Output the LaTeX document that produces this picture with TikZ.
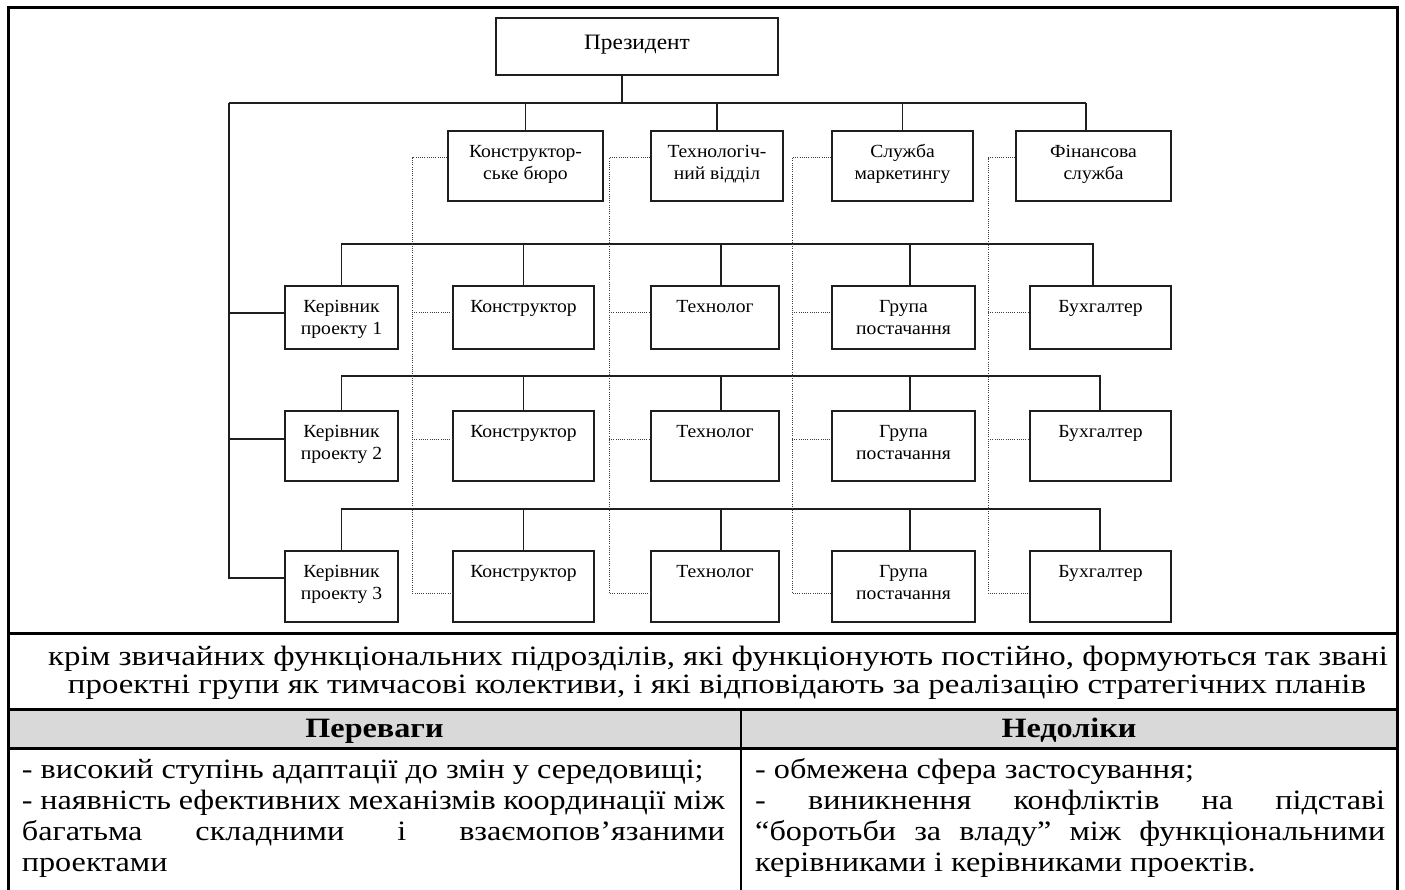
\documentclass[tikz,border=0pt]{standalone}
\usepackage{fontspec}
\setmainfont{Liberation Serif}
\newfontfamily\boxfont[FakeStretch=1.06]{Liberation Serif}
\newfontfamily\tabfont[FakeStretch=1.15]{Liberation Serif}
\newfontfamily\capfont[FakeStretch=1.175]{Liberation Serif}
\definecolor{hdr}{RGB}{217,217,217}
\definecolor{ink}{RGB}{30,30,30}
\begin{document}
\begin{tikzpicture}[x=1pt,y=-1pt,
  box/.style={draw=ink, line width=1.3pt, rectangle, inner sep=0pt},
  btxt/.style={anchor=north, inner sep=0pt, align=center, font=\boxfont\fontsize{18.5}{22}\selectfont},
  conn/.style={draw=ink, line width=1.3pt},
  dotl/.style={draw=black!75, line width=1pt, dash pattern=on 1pt off 1.2pt},
  frameline/.style={draw=black, line width=3pt},
  tabtxt/.style={inner sep=0pt, font=\capfont\fontsize{28}{28}\selectfont},
  cell/.style={anchor=north west, inner sep=0pt, align=left, font=\tabfont\fontsize{28}{31}\selectfont}
]
\useasboundingbox (0,0) rectangle (1405,890);

% ---------- table / frame ----------
\fill[hdr] (8,709) rectangle (1397,748);
\draw[frameline] (8,890) -- (8,8) -- (1397,8) -- (1397,890);
\draw[frameline] (8,633) -- (1397,633);
\draw[frameline] (8,709) -- (1397,709);
\draw[frameline] (8,748) -- (1397,748);
\draw[draw=black, line width=2.5pt] (741,709) -- (741,890);

\node[tabtxt, anchor=base] (cap1) at (718,665) {крім звичайних функціональних підрозділів, які функціонують постійно, формуються так звані};
\node[tabtxt, anchor=base] (cap2) at (717,693) {проектні групи як тимчасові колективи, і які відповідають за реалізацію стратегічних планів};
\node[tabtxt, anchor=base, font=\tabfont\bfseries\fontsize{28}{28}\selectfont] (hpro) at (374.5,737) {Переваги};
\node[tabtxt, anchor=base, font=\tabfont\bfseries\fontsize{28}{28}\selectfont] (hcon) at (1069,737) {Недоліки};

\node[cell] (pros) at (21.7,756) {\rule{0pt}{22pt}- високий ступінь адаптації до змін у середовищі;\\
\makebox[703pt][s]{- наявність ефективних механізмів координації між}\\
\makebox[703pt][s]{багатьма складними і взаємопов’язаними}\\
проектами};
\node[cell] (cons) at (755,756) {\rule{0pt}{22pt}- обмежена сфера застосування;\\
\makebox[630pt][s]{- виникнення конфліктів на підставі}\\
\makebox[630pt][s]{“боротьби за владу” між функціональними}\\
керівниками і керівниками проектів.};

% ---------- boxes ----------
\node[box, minimum width=282pt, minimum height=57pt] (pres) at (637,46.5) {};
\node[anchor=base, inner sep=0pt, font=\boxfont\fontsize{22}{26}\selectfont] (prest) at (637,50) {Президент};

\node[box, minimum width=155pt, minimum height=70pt] (kb) at (525.5,166) {};
\node[box, minimum width=132pt, minimum height=70pt] (tv) at (717,166) {};
\node[box, minimum width=141pt, minimum height=70pt] (sm) at (902.5,166) {};
\node[box, minimum width=155pt, minimum height=70pt] (fs) at (1093.5,166) {};
\node[btxt] (kbt) at ([yshift=-11pt]kb.north) {\rule{0pt}{16pt}Конструктор-\\ське бюро};
\node[btxt] (tvt) at ([yshift=-11pt]tv.north) {\rule{0pt}{16pt}Технологіч-\\ний відділ};
\node[btxt] (smt) at ([yshift=-11pt]sm.north) {\rule{0pt}{16pt}Служба\\маркетингу};
\node[btxt] (fst) at ([yshift=-11pt]fs.north) {\rule{0pt}{16pt}Фінансова\\служба};

% rows
\foreach \r/\cy/\h in {1/317.5/63, 2/446/70, 3/586.5/71}{
  \node[box, minimum width=113pt, minimum height=\h pt] (mgr\r) at (341.5,\cy) {};
  \node[box, minimum width=141pt, minimum height=\h pt] (kon\r) at (523.5,\cy) {};
  \node[box, minimum width=128pt, minimum height=\h pt] (tech\r) at (715,\cy) {};
  \node[box, minimum width=143pt, minimum height=\h pt] (hr\r) at (903.5,\cy) {};
  \node[box, minimum width=141pt, minimum height=\h pt] (bu\r) at (1100.5,\cy) {};
  \node[btxt] (mgrt\r) at ([yshift=-11pt]mgr\r.north) {\rule{0pt}{16pt}Керівник\\проекту \r};
  \node[btxt] (kont\r) at ([yshift=-11pt]kon\r.north) {\rule{0pt}{16pt}Конструктор};
  \node[btxt] (techt\r) at ([yshift=-11pt]tech\r.north) {\rule{0pt}{16pt}Технолог};
  \node[btxt] (hrt\r) at ([yshift=-11pt]hr\r.north) {\rule{0pt}{16pt}Група\\постачання};
  \node[btxt] (but\r) at ([yshift=-11pt]bu\r.north) {\rule{0pt}{16pt}Бухгалтер};
}

% ---------- solid connectors ----------
\coordinate (busL) at (229,103);
\coordinate (busR) at (1086,103);
\coordinate (pst) at (622,103);
\draw[conn] (pst |- pres.south) -- (pst);
\draw[conn] (busL) -- (busR);
\draw[conn] (kb.north) -- (kb.north |- busL);
\draw[conn] (tv.north) -- (tv.north |- busL);
\draw[conn] (sm.north) -- (sm.north |- busL);
\draw[conn] (busR) -- (busR |- fs.north);

\coordinate (sp1) at (229,313);
\coordinate (sp2) at (229,439);
\coordinate (sp3) at (229,578);
\draw[conn] (busL) -- (sp3) -- (sp3 -| mgr3.west);
\draw[conn] (sp1) -- (sp1 -| mgr1.west);
\draw[conn] (sp2) -- (sp2 -| mgr2.west);

\coordinate (r1) at (1093,244);
\coordinate (r2) at (1100,376);
\coordinate (r3) at (1100,509);
\coordinate (tx) at (721,0);
\coordinate (hx) at (910,0);
\foreach \r in {1,2,3}{
  \draw[conn] (mgr\r.north) |- (r\r) -- (r\r |- bu\r.north);
  \draw[conn] (kon\r.north) -- (kon\r.north |- r\r);
  \draw[conn] (tx |- r\r) -- (tx |- tech\r.north);
  \draw[conn] (hx |- r\r) -- (hx |- hr\r.north);
}

% ---------- dotted connectors ----------
\coordinate (yd) at (0,158);
\coordinate (y1) at (0,313);
\coordinate (y2) at (0,439);
\coordinate (d1) at (412,593);
\coordinate (d2) at (609,593);
\coordinate (d3) at (792,593);
\coordinate (d4) at (988,593);
\draw[dotl] (kb.west |- yd) -| (d1) -- (kon3.west |- d1);
\draw[dotl] (tv.west |- yd) -| (d2) -- (tech3.west |- d2);
\draw[dotl] (sm.west |- yd) -| (d3) -- (hr3.west |- d3);
\draw[dotl] (fs.west |- yd) -| (d4) -- (bu3.west |- d4);
\draw[dotl] (d1 |- y1) -- (kon1.west |- y1);
\draw[dotl] (d1 |- y2) -- (kon2.west |- y2);
\draw[dotl] (d2 |- y1) -- (tech1.west |- y1);
\draw[dotl] (d2 |- y2) -- (tech2.west |- y2);
\draw[dotl] (d3 |- y1) -- (hr1.west |- y1);
\draw[dotl] (d3 |- y2) -- (hr2.west |- y2);
\draw[dotl] (d4 |- y1) -- (bu1.west |- y1);
\draw[dotl] (d4 |- y2) -- (bu2.west |- y2);
\end{tikzpicture}
\end{document}
